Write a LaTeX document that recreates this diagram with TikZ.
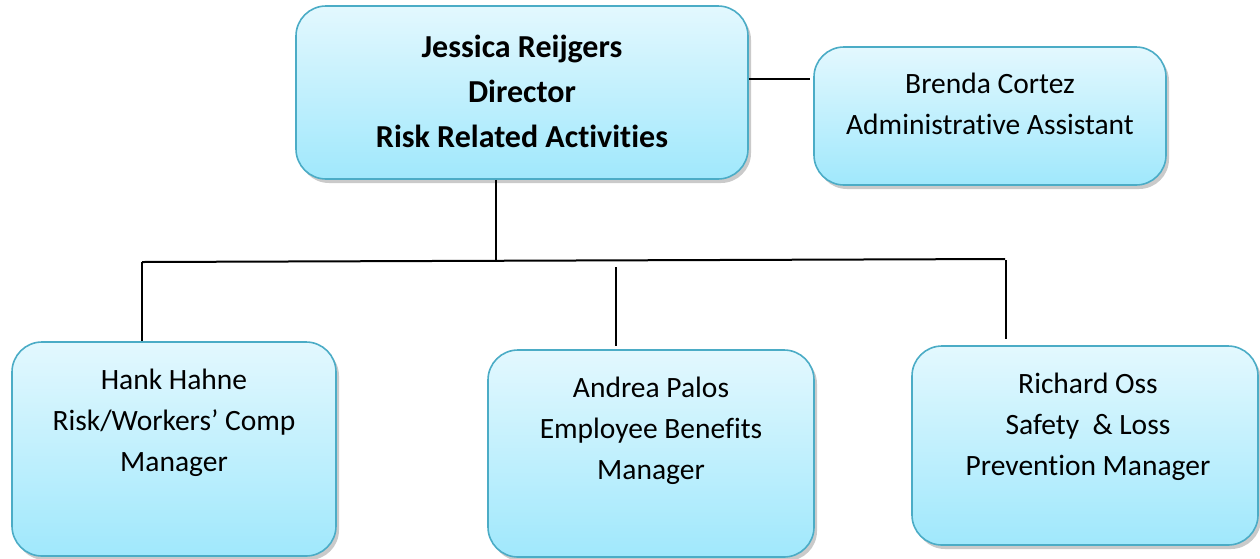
\documentclass[tikz,border=0pt]{standalone}
\usepackage{fontspec}
\setmainfont{Carlito}[Ligatures=NoCommon]
\usetikzlibrary{shadows}
\definecolor{boxborder}{HTML}{4BACC6}
\definecolor{boxtop}{HTML}{E3F8FE}
\definecolor{boxbot}{HTML}{A0E8FC}
\tikzset{
  orgbox/.style={draw=boxborder, line width=1.6pt, rounded corners=30pt,
    top color=boxtop, bottom color=boxbot, inner sep=0pt,
    drop shadow={shadow xshift=3pt, shadow yshift=-4pt, opacity=0.35, fill=black!60}},
  bigtxt/.style={align=center, font=\fontsize{32}{45}\selectfont\bfseries, inner sep=0pt},
  smalltxt/.style={align=center, font=\fontsize{29.5}{41}\selectfont, inner sep=0pt},
  conn/.style={line width=2pt, black},
  thinconn/.style={line width=1.5pt, black}
}
\begin{document}
\begin{tikzpicture}[x=1pt,y=-1pt]
\useasboundingbox (0,0) rectangle (1260,558);
% boxes
\node[orgbox, minimum width=452pt, minimum height=173pt] (dir) at (522,92.5) {};
\node[orgbox, minimum width=352pt, minimum height=138pt] (adm) at (990,116) {};
\node[orgbox, minimum width=324pt, minimum height=214pt] (hank) at (174,449) {};
\node[orgbox, minimum width=326pt, minimum height=207pt] (andrea) at (651,453.5) {};
\node[orgbox, minimum width=346pt, minimum height=199pt] (richard) at (1085,445.5) {};
% texts
\node[bigtxt] (dirt) at (522,91) {Jessica Reijgers\\Director\\Risk Related Activities};
\node[smalltxt] (admt) at (990,104) {Brenda Cortez\\Administrative Assistant};
\node[smalltxt] (hankt) at (174,423) {Hank Hahne\\Risk/Workers’ Comp\\Manager};
\node[smalltxt] (andreat) at (651,431) {Andrea Palos\\Employee Benefits\\Manager};
\node[smalltxt] (richardt) at (1088,427) {Richard Oss\\Safety\ \ \& Loss\\Prevention Manager};
% connectors
\coordinate (j) at (496,260);
\coordinate (hl) at (142,262);
\coordinate (hr) at (1005,259);
\coordinate (at) at (616,267);
\coordinate (rt) at (1006,260);
\coordinate (bc) at (810,79);
\draw[conn] (j |- dir.south) -- (j);
\draw[conn] (hl) -- (hr);
\draw[conn] (hl) -- (hl |- hank.north);
\draw[conn] (at) -- ([yshift=3pt]at |- andrea.north);
\draw[conn] (rt) -- ([yshift=6pt]rt |- richard.north);
\draw[thinconn] (bc -| dir.east) -- (bc);
\end{tikzpicture}
\end{document}
